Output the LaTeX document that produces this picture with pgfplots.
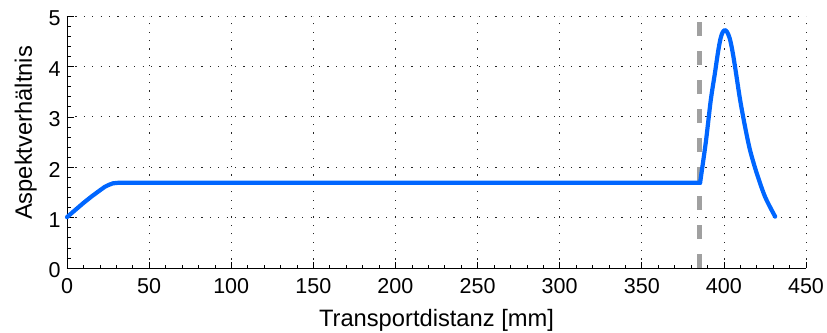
\documentclass[border=0pt]{standalone}
\usepackage{fontspec}
\setmainfont{Liberation Sans}
\usepackage{pgfplots}
\pgfplotsset{compat=1.18}

\definecolor{curveblue}{RGB}{0,102,255}
\definecolor{markgray}{RGB}{160,160,160}

\begin{document}
\begin{tikzpicture}[x=1bp,y=1bp]
\begin{axis}[
  at={(0,0)}, anchor=south west,
  scale only axis,
  width=739bp, height=252bp,
  xmin=0, xmax=450, ymin=0, ymax=5,
  xtick={0,50,...,450}, ytick={0,1,...,5},
  minor x tick num=4, minor y tick num=4,
  axis lines*=left,
  axis line style={black, line width=0.9bp, -},
  tick align=inside,
  major tick length=6.5bp, minor tick length=3.5bp,
  tick style={black, line width=0.6bp},
  grid=major,
  major grid style={black!85, line width=0.8bp, dash pattern=on 1.2bp off 7.2bp},
  /pgf/number format/assume math mode=true,
  ticklabel style={font=\fontsize{21.6}{26}\selectfont},
  xticklabel style={yshift=-7bp},
  yticklabel style={xshift=-3bp, yshift=-2.5bp},
  label style={font=\fontsize{23.8}{28}\selectfont},
  xlabel={Transportdistanz [mm]},
  ylabel={Aspektverhältnis},
  xlabel style={yshift=-9bp},
  ylabel style={yshift=5bp, xshift=9bp},
  clip=false,
]
% marker for the transition position
\addplot[markgray, line width=5bp, dash pattern=on 14.3bp off 14.7bp] coordinates {(385,0) (385,5)};
% aspect ratio along the transport path: ramp and plateau
\addplot[curveblue, line width=4.2bp, line join=round, line cap=round] coordinates {
  (0,1.01) (5,1.15) (10,1.29) (15,1.42) (20,1.54) (23,1.61) (25.5,1.65) (28,1.68) (31,1.69)
  (100,1.69) (200,1.69) (300,1.69) (385.5,1.69)
};
% aspect ratio along the transport path: peak
\addplot[curveblue, line width=4.2bp, line join=round, line cap=round, smooth, tension=0.5] coordinates {
  (385.5,1.69) (389,2.50) (392,3.33) (394.5,3.86) (396.5,4.30) (398,4.56) (399.3,4.68)
  (400.6,4.72) (402,4.68) (403.5,4.56) (405,4.34) (406.8,3.99) (409.9,3.33)
  (412.9,2.80) (415.9,2.34) (420,1.88) (425.1,1.41) (431.2,1.02)
};
\end{axis}
\pgfresetboundingbox
\path (-67,-64) rectangle (760,268);
\end{tikzpicture}
\end{document}
